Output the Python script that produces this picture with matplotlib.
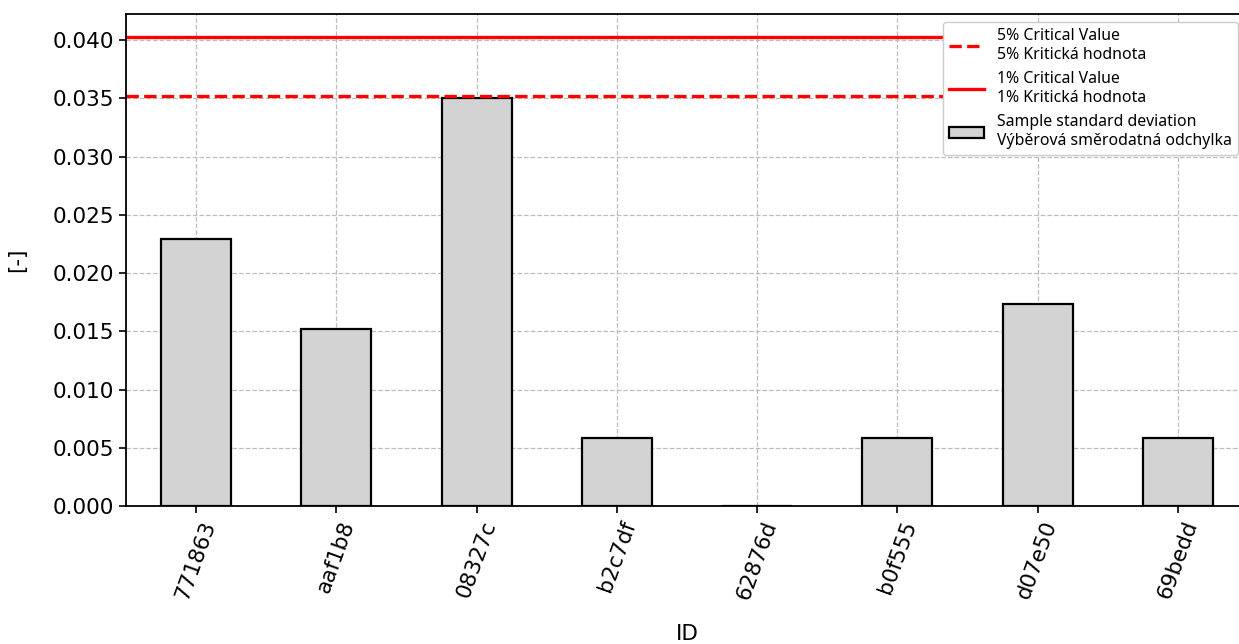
import matplotlib
matplotlib.use('Agg')
import matplotlib.pyplot as plt

ids = ['771863', 'aaf1b8', '08327c', 'b2c7df', '62876d', 'b0f555', 'd07e50', '69bedd']
std_values = [0.0229, 0.0152, 0.0350, 0.0058, 0.0, 0.0058, 0.0173, 0.0058]
crit_5 = 0.0352
crit_1 = 0.0403

fig = plt.figure(figsize=(12.39, 6.44), dpi=100)
ax = fig.add_axes([126 / 1239, 138 / 644, 1122 / 1239, 492 / 644])

ax.set_axisbelow(True)
ax.grid(True, linestyle='--', color='#bdbdbd', linewidth=0.9)

x = list(range(len(ids)))
ax.axhline(crit_5, color='red', linestyle='--', linewidth=2.4,
           label='5% Critical Value\n5% Kritická hodnota')
ax.axhline(crit_1, color='red', linestyle='-', linewidth=2.4,
           label='1% Critical Value\n1% Kritická hodnota')
ax.bar(x, std_values, width=0.5, color='lightgray', edgecolor='black', linewidth=1.6,
       label='Sample standard deviation\nVýběrová směrodatná odchylka')

ax.set_xlim(-0.5, len(ids) - 0.5)
ax.set_ylim(0, 0.04224)
ax.set_yticks([0.000, 0.005, 0.010, 0.015, 0.020, 0.025, 0.030, 0.035, 0.040])
ax.set_yticklabels([f'{v:.3f}' for v in ax.get_yticks()], fontsize=15.5)
ax.set_xticks(x)
ax.set_xticklabels(ids, rotation=70, fontsize=15.5)
ax.set_xlabel('ID', fontsize=15.5, labelpad=16)
ax.set_ylabel('[-]', fontsize=15.5, labelpad=18)
ax.tick_params(length=5, width=1.2)

for s in ax.spines.values():
    s.set_linewidth(1.3)

ax.legend(loc='upper right', prop={'family': 'Noto Sans', 'size': 11.4},
          handlelength=2.2, labelspacing=0.55, borderaxespad=0, framealpha=1,
          bbox_to_anchor=(0.991, 0.984))

fig.savefig('out.png', dpi=100)
